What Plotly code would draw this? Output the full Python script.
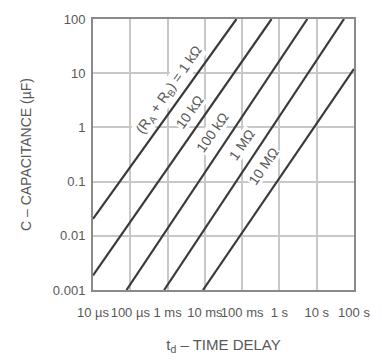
import math
import plotly.graph_objects as go

# Axis ticks
x_tickvals = [1e-5, 1e-4, 1e-3, 1e-2, 1e-1, 1, 10, 100]
x_ticktext = ["10 µs", "100 µs", "1 ms", "10 ms", "100 ms", "1 s", "10 s", "100 s"]
y_tickvals = [0.001, 0.01, 0.1, 1, 10, 100]
y_ticktext = ["0.001", "0.01", "0.1", "1", "10", "100"]

# Lines (endpoints): time delay (s), capacitance (µF)
line_names = ["1 kΩ", "10 kΩ", "100 kΩ", "1 MΩ", "10 MΩ"]
line_t = [[1e-5, 0.0705], [1e-5, 0.615], [7.9e-5, 5.6], [8.1e-4, 54], [8.9e-3, 100]]
line_c = [[0.0205, 100], [0.00186, 100], [0.001, 100], [0.001, 100], [0.001, 12]]

# Labels along the lines
label_text = ["(R<sub>A</sub> + R<sub>B</sub>) = 1 kΩ", "10 kΩ", "100 kΩ", "1 MΩ", "10 MΩ"]
label_t = [1.1e-3, 3.85e-3, 1.61e-2, 9.66e-2, 0.381]
label_c = [5.0, 1.94, 0.815, 0.475, 0.191]

FONT = "Liberation Sans, Arial"
TXT = "#585858"

fig = go.Figure()
for name, t, c in zip(line_names, line_t, line_c):
    fig.add_trace(go.Scatter(x=t, y=c, mode="lines", name=name,
                             line=dict(color="#3a3a3a", width=2.2),
                             showlegend=False, hoverinfo="skip"))

for txt, t, c in zip(label_text, label_t, label_c):
    fig.add_annotation(x=math.log10(t), y=math.log10(c),
                       text=txt, showarrow=False, textangle=-55,
                       font=dict(family=FONT, size=14, color=TXT),
                       bgcolor="white", borderpad=0)

fig.update_xaxes(type="log", range=[-5, 2], tickvals=x_tickvals, ticktext=x_ticktext,
                 showgrid=True, gridcolor="#c8c8c8", gridwidth=2,
                 showline=True, linecolor="#8a8a8a", linewidth=2, mirror=True,
                 ticks="", ticklabelstandoff=9, tickangle=0,
                 tickfont=dict(family=FONT, size=13, color=TXT),
                 title=dict(text="t<sub>d</sub> – TIME DELAY", standoff=21,
                            font=dict(family=FONT, size=15, color=TXT)),
                 zeroline=False)
fig.update_yaxes(type="log", range=[-3, 2], tickvals=y_tickvals, ticktext=y_ticktext,
                 showgrid=True, gridcolor="#c8c8c8", gridwidth=2,
                 showline=True, linecolor="#8a8a8a", linewidth=2, mirror=True,
                 ticks="", ticklabelstandoff=3,
                 tickfont=dict(family=FONT, size=13, color=TXT),
                 title=dict(text="C – CAPACITANCE (µF)", standoff=18,
                            font=dict(family=FONT, size=14, color=TXT)),
                 zeroline=False)

fig.update_layout(width=382, height=363, margin=dict(l=93, r=19, t=17, b=68),
                  paper_bgcolor="white", plot_bgcolor="white")

fig.write_html("out.html", config={"displayModeBar": False},
               post_script="document.body.style.margin='0';document.body.style.overflow='hidden';")
